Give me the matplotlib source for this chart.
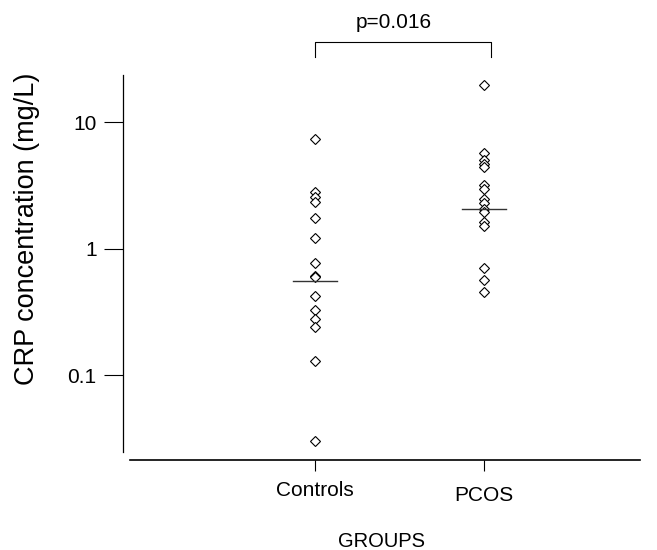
import matplotlib
matplotlib.use("Agg")
import matplotlib.pyplot as plt
import matplotlib.transforms as mtransforms
import numpy as np

plt.rcParams["font.family"] = ["Liberation Sans", "DejaVu Sans"]

groups = ["Controls", "PCOS"]
controls_crp = [7.3, 2.79, 2.58, 2.32, 1.74, 1.22, 0.77, 0.61, 0.60,
                0.42, 0.325, 0.278, 0.24, 0.13, 0.03]
pcos_crp = [19.8, 5.7, 5.0, 4.7, 4.4, 3.2, 2.95, 2.48, 2.3, 2.07, 1.95,
            1.63, 1.52, 0.70, 0.56, 0.45]
medians = [0.55, 2.07]
p_text = "p=0.016"
y_ticks = [0.1, 1, 10]
y_tick_labels = ["0.1", "1", "10"]

fig = plt.figure(figsize=(6.57, 5.5), dpi=100)
W, H = 657, 550
# axes box in pixel coords: left 123, right 640, top 75, bottom 460
ax = fig.add_axes([123 / W, 1 - 460 / H, (640 - 123) / W, (460 - 75) / H])

x_pos = [1, 2]
for xp, vals in zip(x_pos, [controls_crp, pcos_crp]):
    ax.plot([xp] * len(vals), vals, linestyle="none", marker="D", markersize=5.5,
            markerfacecolor="white", markeredgecolor="black", markeredgewidth=0.8)
for xp, m in zip(x_pos, medians):
    ax.plot([xp - 0.13, xp + 0.13], [m, m], color="#333333", linewidth=1.0)

ax.set_yscale("log")
ax.set_ylim(0.0213, 23.6)
ax.set_xlim(-0.13, 2.92)

ax.set_yticks(y_ticks)
ax.set_yticklabels(y_tick_labels, fontsize=15)
ax.yaxis.set_minor_locator(matplotlib.ticker.NullLocator())
ax.set_xticks(x_pos)
ax.set_xticklabels(groups, fontsize=15)

ax.tick_params(axis="y", length=14, width=0.8, pad=5)
ax.tick_params(axis="x", length=8, width=0.8, pad=7)
# PCOS label sits a little lower in the original
offset = mtransforms.ScaledTranslation(0, -5 / 100, fig.dpi_scale_trans)
xt = ax.get_xticklabels()
xt[1].set_transform(xt[1].get_transform() + offset)

for side in ["top", "right"]:
    ax.spines[side].set_visible(False)
ax.spines["left"].set_bounds(0.0246, 23.6)
ax.spines["bottom"].set_bounds(-0.09, 2.92)
ax.spines["left"].set_linewidth(0.9)
ax.spines["bottom"].set_linewidth(1.2)

ax.set_ylabel("CRP concentration (mg/L)", fontsize=19.5)
ax.yaxis.set_label_coords(-0.16, 0.6)
ax.set_xlabel("GROUPS", fontsize=14.5)
ax.xaxis.set_label_coords(0.5, -0.186)

# significance bracket
bx0, bx1 = 1.0, 2.04
ax.plot([bx0, bx0, bx1, bx1], [32.7, 42.9, 42.9, 32.7], color="black",
        linewidth=0.8, clip_on=False)
ax.text((bx0 + bx1) / 2 - 0.05, 61.7, p_text, ha="center", va="center",
        fontsize=15, clip_on=False)

fig.savefig("out.png", dpi=100)
